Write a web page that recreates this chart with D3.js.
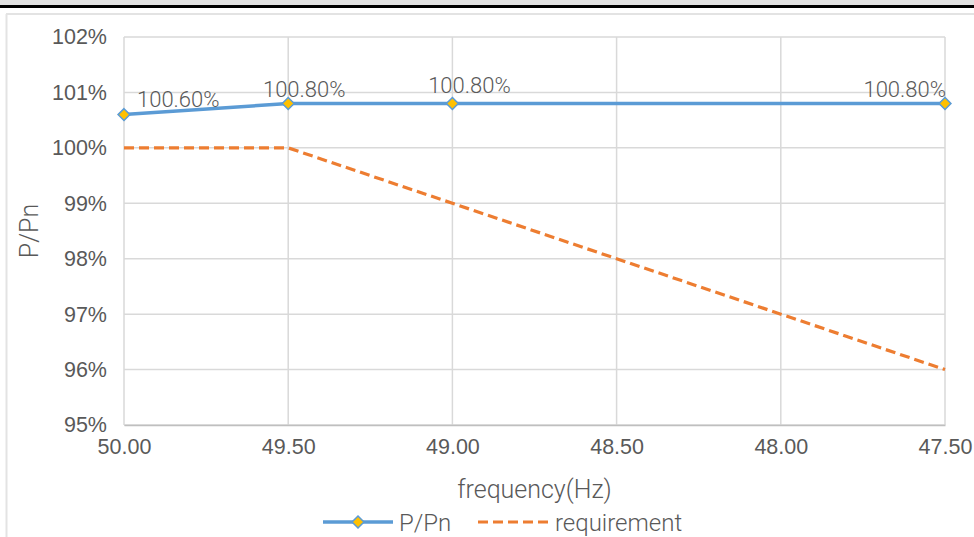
<!DOCTYPE html>
<html>
<head>
<meta charset="utf-8">
<script src="https://cdn.jsdelivr.net/npm/d3@7"></script>
<style>
  html, body { margin: 0; padding: 0; background: #fff; }
  svg { display: block; font-family: "Roboto", sans-serif; font-weight: 300; }
</style>
</head>
<body>
<svg id="chart" width="974" height="537"></svg>
<script>
// Frequency steps (Hz) and measured / required active power ratio (%)
const frequencies = [50.0, 49.5, 49.0, 48.5, 48.0, 47.5];
const measuredFreq = [50.0, 49.5, 49.0, 47.5];
const measuredPct = [100.6, 100.8, 100.8, 100.8];
const requirementPct = [100, 100, 99, 98, 97, 96];
const yTicks = [95, 96, 97, 98, 99, 100, 101, 102];
const seriesNames = ["P/Pn", "requirement"];

const svg = d3.select("#chart");
const W = 974, H = 537;
const m = { left: 124, right: 29, top: 37, bottom: 112 };

// window frame
svg.append("rect").attr("x", 0).attr("y", 0).attr("width", W).attr("height", 5).attr("fill", "#e1e1e1");
svg.append("rect").attr("x", 0).attr("y", 5).attr("width", W).attr("height", 3).attr("fill", "#000");
svg.append("line").attr("x1", 6).attr("x2", W).attr("y1", 14).attr("y2", 14)
  .attr("stroke", "#e3e3e3").attr("stroke-width", 2);
svg.append("line").attr("x1", 6.5).attr("x2", 6.5).attr("y1", 14).attr("y2", H)
  .attr("stroke", "#e3e3e3").attr("stroke-width", 2);

const x = d3.scaleLinear().domain([50, 47.5]).range([m.left, W - m.right]);
const y = d3.scaleLinear().domain([95, 102]).range([H - m.bottom, m.top]);

const textColor = "#595959";
const tickSize = 21.5;

// gridlines
const grid = svg.append("g");
grid.selectAll("line.h").data(yTicks).join("line")
  .attr("x1", m.left).attr("x2", W - m.right)
  .attr("y1", d => y(d)).attr("y2", d => y(d))
  .attr("stroke", "#d9d9d9").attr("stroke-width", 1.5);
grid.selectAll("line.v").data(frequencies).join("line")
  .attr("x1", d => x(d)).attr("x2", d => x(d))
  .attr("y1", m.top).attr("y2", y(95))
  .attr("stroke", "#d9d9d9").attr("stroke-width", 1.5);

// y axis labels
const yAxis = svg.append("g").attr("transform", `translate(${m.left},0)`)
  .call(d3.axisLeft(y).tickValues(yTicks).tickSize(0).tickPadding(17).tickFormat(d => d + "%"));
yAxis.select(".domain").remove();
yAxis.selectAll("text").attr("fill", textColor).attr("font-size", tickSize)
  .attr("font-family", "inherit").attr("font-weight", 300);

// x axis
const xAxis = svg.append("g").attr("transform", `translate(0,${y(95)})`)
  .call(d3.axisBottom(x).tickValues(frequencies).tickSize(0).tickPadding(14).tickFormat(d3.format(".2f")));
xAxis.select(".domain").attr("stroke", "#bfbfbf").attr("stroke-width", 1.5);
xAxis.selectAll("text").attr("fill", textColor).attr("font-size", tickSize)
  .attr("font-family", "inherit").attr("font-weight", 300);

// axis titles
svg.append("text").attr("x", (m.left + W - m.right) / 2).attr("y", 498)
  .attr("text-anchor", "middle").attr("fill", textColor).attr("font-size", 25)
  .text("frequency(Hz)");
svg.append("text").attr("transform", `translate(38,${(y(95) + y(102)) / 2}) rotate(-90)`)
  .attr("text-anchor", "middle").attr("fill", textColor).attr("font-size", 25)
  .text("P/Pn");

const blue = "#5b9bd5", orange = "#ed7d31", gold = "#ffc000";

// requirement line
const reqData = frequencies.map((f, i) => [f, requirementPct[i]]);
svg.append("path").datum(reqData)
  .attr("d", d3.line().x(d => x(d[0])).y(d => y(d[1])))
  .attr("fill", "none").attr("stroke", orange).attr("stroke-width", 3.2)
  .attr("stroke-dasharray", "10,5");

// measured line
const measData = measuredFreq.map((f, i) => [f, measuredPct[i]]);
svg.append("path").datum(measData)
  .attr("d", d3.line().x(d => x(d[0])).y(d => y(d[1])))
  .attr("fill", "none").attr("stroke", blue).attr("stroke-width", 3.5);

const diamond = d3.symbol().type(d3.symbolDiamond2).size(90);
svg.selectAll("path.marker").data(measData).join("path")
  .attr("class", "marker")
  .attr("transform", d => `translate(${x(d[0])},${y(d[1])})`)
  .attr("d", diamond)
  .attr("fill", gold).attr("stroke", blue).attr("stroke-width", 1.5);

// data labels
const labelPlace = [
  { dx: 13, dy: -8, anchor: "start" },
  { dx: 16, dy: -7, anchor: "middle" },
  { dx: 17, dy: -11, anchor: "middle" },
  { dx: 1, dy: -7, anchor: "end" }
];
svg.selectAll("text.lbl").data(measData).join("text")
  .attr("class", "lbl")
  .attr("x", (d, i) => x(d[0]) + labelPlace[i].dx)
  .attr("y", (d, i) => y(d[1]) + labelPlace[i].dy)
  .attr("text-anchor", (d, i) => labelPlace[i].anchor)
  .attr("fill", textColor).attr("font-size", 22)
  .text(d => d[1].toFixed(2) + "%");

// legend
const lg = svg.append("g").attr("transform", "translate(0,522)");
lg.append("line").attr("x1", 323).attr("x2", 393).attr("y1", 0).attr("y2", 0)
  .attr("stroke", blue).attr("stroke-width", 3.5);
lg.append("path").attr("transform", "translate(358,0)").attr("d", diamond)
  .attr("fill", gold).attr("stroke", blue).attr("stroke-width", 1.5);
lg.append("text").attr("x", 399).attr("y", 9).attr("fill", textColor).attr("font-size", 24).text(seriesNames[0]);
lg.append("line").attr("x1", 478).attr("x2", 548).attr("y1", 0).attr("y2", 0)
  .attr("stroke", orange).attr("stroke-width", 3.2).attr("stroke-dasharray", "10,5");
lg.append("text").attr("x", 555).attr("y", 9).attr("fill", textColor).attr("font-size", 24).text(seriesNames[1]);
</script>
</body>
</html>
